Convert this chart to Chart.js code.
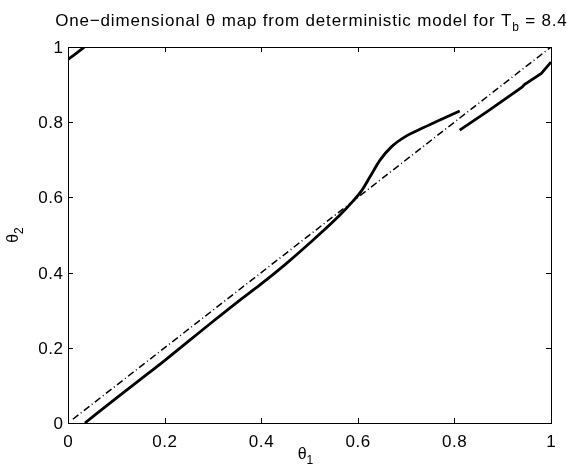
<!DOCTYPE html>
<html>
<head>
<meta charset="utf-8">
<script src="https://cdn.jsdelivr.net/npm/chart.js@4/dist/chart.umd.min.js"></script>
<style>
html,body{margin:0;padding:0;background:#fff;}
#wrap{width:567px;height:466px;}
</style>
</head>
<body>
<div id="wrap"><canvas id="c" width="567" height="466"></canvas></div>
<script>
// ---- data ----
const mainX = [0.035, 0.10, 0.148, 0.20, 0.30, 0.356, 0.40, 0.45, 0.50, 0.563, 0.59, 0.608, 0.625, 0.646, 0.67, 0.70, 0.735, 0.77, 0.811];
const mainY = [0.000, 0.066, 0.114, 0.166, 0.270, 0.327, 0.370, 0.422, 0.478, 0.553, 0.590, 0.618, 0.654, 0.699, 0.735, 0.763, 0.785, 0.806, 0.830];
const rightX = [0.811, 0.87, 0.940, 0.945, 0.980, 1.000];
const rightY = [0.779, 0.830, 0.893, 0.900, 0.930, 0.960];
const wrapX = [0.000, 0.017, 0.034];
const wrapY = [0.967, 0.983, 1.000];
const diagX = [0.01, 1.0];
const diagY = [0.01, 1.0];
const xTicks = [0, 0.2, 0.4, 0.6, 0.8, 1];
const xTickLabels = ['0', '0.2', '0.4', '0.6', '0.8', '1'];
const yTicks = [0, 0.2, 0.4, 0.6, 0.8, 1];
const yTickLabels = ['0', '0.2', '0.4', '0.6', '0.8', '1'];
const titleMain = 'One\u2212dimensional \u03b8 map from deterministic model for T';
const titleSub = 'b';
const titleTail = ' = 8.4';

const pts = (xs, ys) => xs.map((x, i) => ({x: x, y: ys[i]}));
const FONT = '"Liberation Sans", Arial, Helvetica, sans-serif';

function spacedText(ctx, txt, x, y, sp) {
  let cx = x;
  for (const ch of txt) {
    ctx.fillText(ch, cx, y);
    cx += ctx.measureText(ch).width + sp;
  }
  return cx - x;
}
function spacedWidth(ctx, txt, sp) {
  let w = 0;
  for (const ch of txt) w += ctx.measureText(ch).width + sp;
  return w;
}

const axesPlugin = {
  id: 'matlabAxes',
  afterDraw(chart) {
    const ctx = chart.ctx;
    const a = chart.chartArea;
    const xs = chart.scales.x, ys = chart.scales.y;
    ctx.save();
    ctx.strokeStyle = '#000';
    ctx.lineWidth = 1;
    ctx.strokeRect(Math.round(a.left) + 0.5, Math.round(a.top) + 0.5,
                   Math.round(a.right - a.left), Math.round(a.bottom - a.top));
    const tl = 5;
    ctx.beginPath();
    xTicks.forEach(v => {
      const p = Math.round(xs.getPixelForValue(v)) + 0.5;
      ctx.moveTo(p, a.bottom); ctx.lineTo(p, a.bottom - tl);
      ctx.moveTo(p, a.top); ctx.lineTo(p, a.top + tl);
    });
    yTicks.forEach(v => {
      const p = Math.round(ys.getPixelForValue(v)) + 0.5;
      ctx.moveTo(a.left, p); ctx.lineTo(a.left + tl, p);
      ctx.moveTo(a.right, p); ctx.lineTo(a.right - tl, p);
    });
    ctx.stroke();

    ctx.fillStyle = '#000';
    ctx.textAlign = 'left';
    ctx.textBaseline = 'alphabetic';
    ctx.font = '17px ' + FONT;
    const tsp = 0.6;
    xTicks.forEach((v, i) => {
      const w = spacedWidth(ctx, xTickLabels[i], tsp) - tsp;
      spacedText(ctx, xTickLabels[i], xs.getPixelForValue(v) - w / 2, a.bottom + 24, tsp);
    });
    yTicks.forEach((v, i) => {
      const w = spacedWidth(ctx, yTickLabels[i], tsp) - tsp;
      spacedText(ctx, yTickLabels[i], a.left - 5 - w, ys.getPixelForValue(v) + 6, tsp);
    });

    // x axis label theta_1
    const cx = (a.left + a.right) / 2;
    ctx.font = '16px ' + FONT;
    const wt = ctx.measureText('\u03b8').width;
    ctx.font = '12px ' + FONT;
    const w1 = ctx.measureText('1').width;
    let sx = cx - 4 - (wt + w1) / 2;
    ctx.font = '16px ' + FONT;
    ctx.fillText('\u03b8', sx, a.bottom + 36);
    ctx.font = '12px ' + FONT;
    ctx.fillText('1', sx + wt, a.bottom + 41);

    // y axis label theta_2
    const cy = (a.top + a.bottom) / 2;
    ctx.save();
    ctx.translate(18, cy);
    ctx.rotate(-Math.PI / 2);
    ctx.font = '16px ' + FONT;
    const w2 = ctx.measureText('\u03b8').width;
    ctx.font = '12px ' + FONT;
    const w3 = ctx.measureText('2').width;
    let sy = -(w2 + w3) / 2;
    ctx.font = '16px ' + FONT;
    ctx.fillText('\u03b8', sy, 0);
    ctx.font = '12px ' + FONT;
    ctx.fillText('2', sy + w2, 5);
    ctx.restore();

    // title with subscript
    const sp = 0.82;
    ctx.font = '17px ' + FONT;
    const tw1 = spacedWidth(ctx, titleMain, sp);
    const tw3 = spacedWidth(ctx, titleTail, sp) - sp;
    ctx.font = '12px ' + FONT;
    const tw2 = spacedWidth(ctx, titleSub, sp);
    let tx = 311 - (tw1 + tw2 + tw3) / 2;
    const ty = 26;
    ctx.font = '17px ' + FONT;
    spacedText(ctx, titleMain, tx, ty, sp);
    ctx.font = '12px ' + FONT;
    spacedText(ctx, titleSub, tx + tw1, ty + 5, sp);
    ctx.font = '17px ' + FONT;
    spacedText(ctx, titleTail, tx + tw1 + tw2, ty, sp);
    ctx.restore();
  }
};

new Chart(document.getElementById('c'), {
  type: 'scatter',
  data: {
    datasets: [
      {data: pts(diagX, diagY), showLine: true, borderColor: '#000', borderWidth: 1.5,
       borderDash: [7, 3, 1, 3], pointRadius: 0, fill: false},
      {data: pts(mainX, mainY), showLine: true, borderColor: '#000', borderWidth: 2.8,
       pointRadius: 0, cubicInterpolationMode: 'monotone', fill: false},
      {data: pts(rightX, rightY), showLine: true, borderColor: '#000', borderWidth: 2.8,
       pointRadius: 0, fill: false},
      {data: pts(wrapX, wrapY), showLine: true, borderColor: '#000', borderWidth: 2.8,
       pointRadius: 0, cubicInterpolationMode: 'monotone', fill: false}
    ]
  },
  options: {
    responsive: false,
    animation: false,
    devicePixelRatio: 1,
    layout: {padding: {left: 68, right: 16, top: 47, bottom: 43}},
    plugins: {legend: {display: false}, tooltip: {enabled: false}, title: {display: false}},
    scales: {
      x: {type: 'linear', min: 0, max: 1, display: false},
      y: {type: 'linear', min: 0, max: 1, display: false}
    }
  },
  plugins: [axesPlugin]
});
</script>
</body>
</html>
